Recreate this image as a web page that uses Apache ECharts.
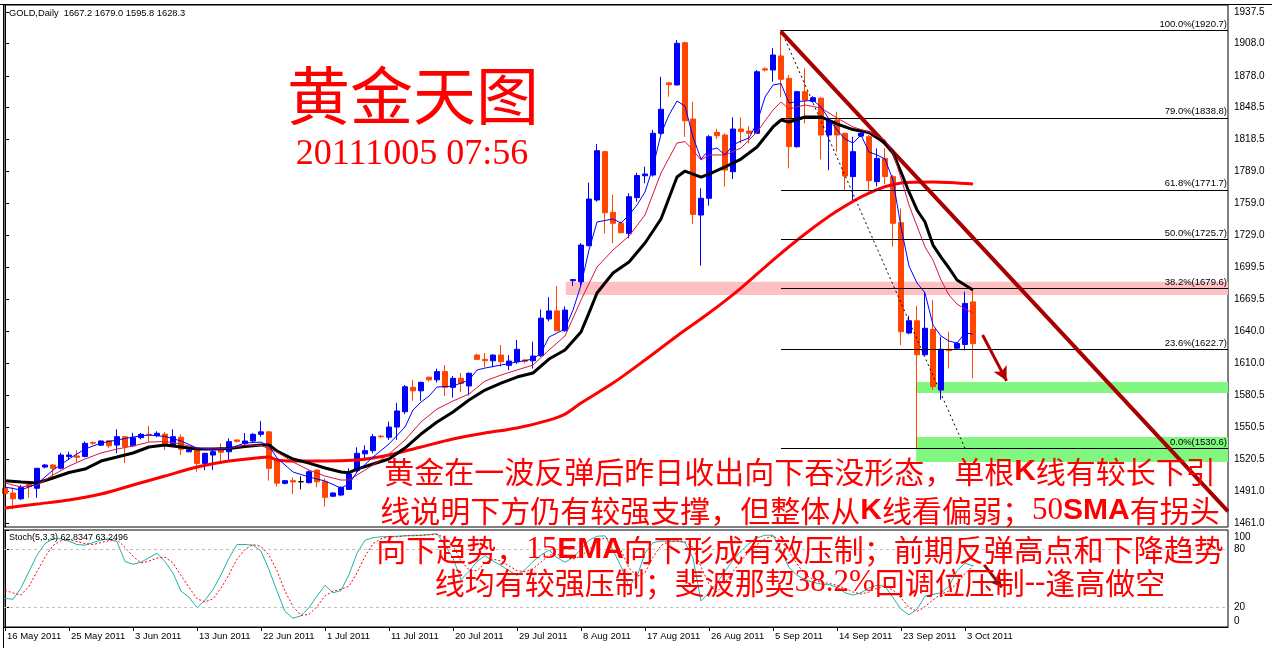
<!DOCTYPE html>
<html><head><meta charset="utf-8">
<script src="https://cdn.jsdelivr.net/npm/echarts@6.0.0/dist/echarts.min.js"></script>
<style>html,body{margin:0;padding:0;background:#fff}#c{width:1272px;height:648px}</style>
</head><body><div id="c"></div>
<script>
// ---- data (bar index 0 = 16 May 2011, one bar per trading day incl. Sunday bars)
const opens = [1493.5,1489,1483.6,1497,1493.4,1513.2,1515.1,1512.1,1523,1523.5,
1523,1536,1533.6,1537.8,1533.7,1541.5,1533,1540.6,1543.7,1542.5,
1543.9,1533.7,1541,1527.4,1530.6,1516.6,1524.4,1529,1527.5,1538.4,
1535.3,1537.5,1543.7,1546,1520,1498,1500.5,1499.5,1498.6,1510.4,
1499.5,1486,1487.1,1492.4,1510,1525.5,1528.5,1542,1541,1550.5,
1564.8,1587.5,1584.3,1597,1594.5,1602.2,1587.5,1595.9,1588.8,1617.6,
1613.6,1612.3,1617.6,1608,1611.4,1613,1612.3,1617,1651.3,1658.8,
1640.3,1687,1686,1719.6,1762.2,1807.3,1750.7,1740.5,1731.1,1764.4,
1784.8,1785.5,1824.4,1871.5,1869.5,1908.9,1837.7,1748.2,1763.8,1825.3,
1822.8,1788.6,1828.4,1826.5,1824.4,1884.5,1883.4,1896.5,1875.6,1811.9,
1863.2,1854,1857.1,1822.8,1836.8,1824.4,1784,1821.8,1821.2,1779.3,
1801,1784,1741,1638.2,1649.6,1617.9,1641.6,1585,1623,1624,
1627.5,1667.2];
const closes = [1488.5,1483.6,1494.3,1495,1512,1515.1,1512.1,1524.4,1524.4,1522.3,
1535.3,1535.5,1537.5,1533,1541.5,1532.2,1540.5,1543.7,1542.8,1544.7,
1533.7,1541.5,1529.8,1529.3,1516.6,1526,1527.5,1527,1536.9,1537.2,
1537.5,1543.7,1546,1512,1498.2,1500.5,1499.3,1499.5,1508.8,1499.5,
1485,1489,1494.3,1506.7,1526,1528.5,1541.5,1541.5,1550.5,1565.5,
1588.1,1584.3,1592.2,1594.5,1602.2,1587.5,1595.9,1591.2,1600.6,1613.6,
1612.3,1617.6,1611.4,1612,1623,1611.8,1616.7,1652,1658.8,1640.3,
1659.6,1688,1720.2,1763.1,1808.2,1750.3,1740.5,1731.7,1765.3,1785,
1786.4,1824.4,1846.8,1869.7,1908.3,1836.1,1748.8,1763.8,1821.2,1822.2,
1790.1,1828.4,1826,1824.4,1881.8,1883.4,1897.4,1874.7,1811.9,1863.2,
1855.4,1857.6,1822.8,1835.8,1822.8,1784.5,1807.3,1824.4,1780.2,1801,
1784,1740.5,1639.4,1649.6,1617.9,1642.6,1588.1,1623,1621.7,1628.5,
1665.8,1628.3];
const lows = [1485,1473.8,1482.4,1484.6,1484.6,1512,1501.1,1511,1519.7,1517,
1522.3,1534,1533,1531,1526,1517,1532,1539,1536.9,1541,
1529,1533,1524.4,1527,1508.8,1510.4,1510.4,1518.2,1520,1536,
1533,1536,1541.5,1500.5,1495,1497,1488,1492.4,1498,1494.3,
1476.2,1485.5,1486,1491.7,1508,1521,1526,1540,1538.5,1538.5,
1562.6,1575,1575,1593,1592,1579.4,1578,1583,1580,1613,
1606.3,1606.3,1606.8,1603.7,1609.3,1610,1605,1616,1649,1640,
1639.5,1682,1682,1719,1760.6,1731,1721.8,1731,1726.5,1760.6,
1777.8,1784,1823,1858.5,1869,1821.2,1739.8,1701,1757,1819,
1774.6,1781.8,1815.1,1815,1824,1882,1872.5,1858,1791.7,1811,
1833.7,1853,1800.1,1790.1,1807.3,1771.5,1759.7,1821,1769.9,1775,
1777,1718.7,1627,1637,1530.6,1617,1585,1576,1605,1623,
1622,1595.8];
const highs = [1496,1494.3,1496.4,1499,1512.5,1516,1516,1526.5,1527.5,1529,
1537,1537,1538,1538,1548.4,1542,1545,1545,1551.7,1546.5,
1546,1548.4,1543.7,1530,1531,1526.5,1529,1535.3,1540,1539,
1545,1545,1556,1547,1522,1501,1503.6,1504.5,1510,1511,
1502.7,1489.5,1495,1512,1531.6,1533.4,1544,1543,1555.5,1573,
1589.7,1594.5,1592.8,1597.5,1605,1608.3,1598,1601,1601.5,1619,
1619.5,1618.5,1627,1617.6,1631.7,1614,1630,1660,1671.6,1682,
1663,1688.5,1722,1778.5,1814.4,1808,1767,1742,1768.5,1787.6,
1793.3,1827.5,1877.1,1871.5,1911.4,1909.8,1853.9,1773.1,1822.7,1828.5,
1824.4,1839.3,1839.3,1831,1883.4,1886,1903.7,1920.7,1878.7,1864,
1885,1859,1858,1836.8,1844.5,1824.4,1821.2,1825,1822.8,1810.3,
1810.3,1785.5,1754.4,1654.3,1663.5,1676.7,1668.9,1634.7,1639.4,1629.4,
1676.7,1679];

// moving averages: [bar, price]
const ema5 = [[0,1494.6],[2,1491.8],[4,1497.4],[6,1510.4],[8,1520.7],[10,1530.0],[12,1535.6],[14,1538.4],[16,1541.2],[18,1543.1],[20,1541.7],[22,1537.5],[24,1530.9],[26,1529.1],[28,1530.5],[30,1535.6],[32,1536.5],[33,1532.8],[34,1521.6],[36,1508.6],[38,1503.9],[40,1500.2],[42,1493.6],[43,1497.4],[44,1508.6],[46,1522.5],[48,1534.7],[50,1550.5],[51,1566.4],[52,1573.8],[53,1579.4],[54,1587.8],[56,1588.7],[58,1594.3],[59,1603.7],[60,1605.5],[62,1608.3],[64,1611.1],[66,1613.9],[67,1619.5],[68,1634.4],[69,1638.2],[70,1641.9],[71,1659.6],[72,1682.9],[73,1715.6],[74,1741.7],[76,1744.5],[77,1740.7],[78,1748.2],[79,1757.5],[80,1769.7],[81,1793.0],[82,1823.7],[83,1841.5],[84,1854.5],[85,1849.8],[86,1820.9],[87,1800.4],[88,1808.8],[89,1810.7],[90,1804.2],[91,1813.5],[92,1817.2],[93,1820.0],[94,1834.0],[95,1858.2],[96,1869.4],[97,1870.8],[98,1852.6],[99,1854.0],[100,1854.5],[101,1855.4],[102,1848.9],[103,1837.7],[104,1827.5],[105,1819.1],[106,1815.3],[107,1822.8],[108,1807.0],[109,1804.2],[110,1800.4],[111,1780.8],[112,1737.0],[113,1700.6],[114,1684.8],[115,1675.5],[116,1645.6],[117,1635.4],[118,1630.7],[119,1628.8],[120,1638.2],[121,1637.2]];
const ema10 = [[0,1498.3],[2,1494.6],[4,1496.4],[6,1505.8],[8,1514.1],[10,1520.7],[12,1526.3],[14,1530.0],[16,1532.8],[18,1536.5],[20,1537.0],[22,1534.7],[24,1530.9],[26,1530.0],[28,1530.5],[30,1533.7],[32,1533.3],[34,1527.2],[36,1517.9],[38,1510.4],[40,1504.8],[42,1501.1],[43,1501.1],[44,1505.8],[46,1515.1],[48,1525.3],[50,1538.4],[52,1555.2],[54,1567.3],[56,1574.8],[58,1581.3],[60,1593.4],[62,1599.0],[64,1603.7],[66,1608.3],[68,1622.3],[70,1635.4],[72,1668.9],[74,1699.7],[76,1715.6],[78,1728.6],[80,1748.2],[82,1787.4],[84,1815.3],[85,1816.7],[86,1808.8],[87,1799.5],[88,1804.2],[90,1804.2],[92,1810.7],[94,1825.6],[96,1846.1],[97,1853.6],[98,1847.1],[100,1850.8],[102,1848.0],[104,1838.7],[106,1830.3],[108,1825.6],[110,1818.1],[111,1806.0],[112,1782.7],[113,1757.5],[114,1737.9],[115,1718.4],[116,1706.2],[117,1687.6],[118,1673.6],[119,1665.2],[120,1660.6],[121,1656.8]];
const ema15 = [[0,1500.4],[2,1499.2],[4,1498.3],[6,1503.0],[8,1508.1],[10,1511.3],[12,1518.8],[14,1522.5],[16,1526.3],[18,1531.9],[20,1533.7],[22,1531.9],[24,1530.0],[26,1530.0],[28,1530.5],[30,1532.3],[32,1533.7],[33,1533.7],[34,1528.1],[36,1520.7],[38,1516.9],[40,1512.3],[42,1508.6],[43,1507.9],[44,1511.3],[46,1516.0],[48,1520.7],[50,1530.9],[52,1544.0],[54,1555.2],[56,1564.5],[58,1575.7],[60,1585.0],[62,1591.5],[64,1597.1],[66,1600.9],[68,1613.9],[70,1622.3],[72,1639.1],[73,1657.0],[74,1675.5],[76,1694.1],[78,1704.4],[80,1722.1],[82,1744.5],[84,1783.6],[85,1789.2],[86,1786.4],[87,1783.6],[88,1786.4],[90,1793.0],[92,1800.4],[94,1811.6],[96,1830.3],[97,1836.8],[98,1834.9],[100,1839.6],[102,1839.6],[104,1833.1],[106,1827.9],[108,1825.1],[110,1815.3],[111,1806.0],[112,1788.3],[113,1769.7],[114,1752.9],[115,1741.7],[116,1720.2],[117,1709.0],[118,1698.8],[119,1687.6],[120,1682.9],[121,1678.3]];
const sma50 = [[0,1475.0],[4,1478.7],[8,1482.4],[12,1488.0],[16,1496.4],[20,1504.8],[24,1513.2],[28,1518.8],[32,1522.1],[33,1522.5],[34,1519.7],[36,1518.8],[40,1518.8],[44,1519.7],[46,1521.6],[48,1524.4],[52,1531.9],[56,1539.3],[60,1544.9],[64,1549.6],[68,1557.0],[70,1562.6],[72,1572.9],[76,1591.5],[80,1613.0],[84,1635.4],[88,1656.8],[92,1680.1],[96,1706.2],[100,1730.5],[104,1751.9],[108,1768.7],[112,1778.0],[116,1779.0],[121,1777.1]];

// stochastic (5,3,3)
const stochK = [29.5,28.5,40.3,57.3,74,86,91,91,88.5,85,
84.4,87,89.5,91,88,67.5,64.7,66.8,71.5,76,
67.5,55.6,37,30.8,20,27.5,38.6,54,71,85,
85,84.4,78.3,59,37,16,9,11.5,20,31.9,
43,35.3,37.6,54,76,89.5,92,93,93.3,93.6,
94,94.6,94.6,95.3,96.3,84.4,71,48.8,57.3,67.5,
73.6,68,63.4,58,53.2,59,67.5,74.2,79.3,71.5,
66.8,71.5,80.3,89.5,93.6,94,79.3,62.4,42,52,
76,87,88.5,88.5,88.5,87,71,26.8,35.3,45.4,
57.3,69,78.3,86,92,94.6,94.6,79.3,61.4,53.2,
48.8,46,44.4,43.7,41,35.3,32.9,35.3,40.3,43,
42,30.2,18.3,12.5,18.3,31.9,33.6,35.3,42,58,
65.8,62.83];
const stochD = [38,35,33,42,57,72,84,89,90,88,
86,85,87,89,90,82,73,66,68,71,
72,66,53,41,29,26,29,40,54,70,
80,85,83,74,58,37,21,12,13,21,
32,37,39,42,56,73,86,91,93,93,
94,94,94.5,95,95.5,92,84,68,59,58,
66,70,68,63,58,57,60,67,74,75,
72,70,73,80,88,92,89,79,61,52,
56,72,84,88,88.5,88,82,62,44,36,
46,57,68,78,85,91,94,89,78,65,
54,49,46,45,43,40,36,34,36,40,
42,38,30,20,16,21,28,34,37,45,
55,63.25];

const priceTicks = [1461.0,1491.0,1520.5,1550.5,1580.5,1610.0,1640.0,1669.5,1699.5,1729.0,1759.0,1789.0,1818.5,1848.5,1878.0,1908.0,1937.5];
const stochTicks = [0,20,80,100];
const tickBars = [0,8,16,24,32,40,48,56,64,72,80,88,96,104,112,120];
const tickLabels = ['16 May 2011','25 May 2011','3 Jun 2011','13 Jun 2011','22 Jun 2011','1 Jul 2011','11 Jul 2011','20 Jul 2011','29 Jul 2011','8 Aug 2011','17 Aug 2011','26 Aug 2011','5 Sep 2011','14 Sep 2011','23 Sep 2011','3 Oct 2011'];

const fibStartBar = 97;
const fibLevels = [1920.7,1838.8,1771.7,1725.7,1679.6,1622.7,1530.6];
const fibLabels = ['100.0%(1920.7)','79.0%(1838.8)','61.8%(1771.7)','50.0%(1725.7)','38.2%(1679.6)','23.6%(1622.7)','0.0%(1530.6)'];
const fibDiag = [[97,1920.7],[120,1530.6]];
const trendLine = [[97,1919.1],[152.875,1471.8]];
const arrowMain = [[122.2,1636.3],[125.2,1593.6]];
const arrowStoch = [[122.4,64],[124.6,41]];
const pinkZone = [[70.1,1673.6],[152.875,1686.0]];
const greenZones = [[[113.9,1582.3],[152.875,1592.5]],[[113.9,1517.9],[152.875,1541.2]]];
const lastPrice = 1628.3;

const X_MIN = -0.125, X_MAX = 152.875;

const chart = echarts.init(document.getElementById('c'));
const candleData = opens.map((o,i)=>[i,o,closes[i],lows[i],highs[i]]);
const kData = stochK.map((v,i)=>[i,v]);
const dData = stochD.map((v,i)=>[i,v]);
const FONT = 'Liberation Sans';
const NOTE_SIZE = 30;

const fibLines = fibLevels.map((lv,k)=>[
  {coord:[fibStartBar,lv], name:fibLabels[k]},
  {coord:[X_MAX,lv]}
]);

const redTextBase = {fill:'#FF0000', fontSize:NOTE_SIZE, fontFamily:'Noto Sans CJK SC', align:'center', verticalAlign:'middle',
  rich:{
    b:{fill:'#FF0000', fontSize:NOTE_SIZE, fontFamily:FONT, fontWeight:'bold'},
    n:{fill:'#FF0000', fontSize:NOTE_SIZE+1, fontFamily:'Liberation Serif'}
  }};
const noteLines = [
  '黄金在一波反弹后昨日收出向下吞没形态，单根{b|K}线有较长下引',
  '线说明下方仍有较强支撑，但整体从{b|K}线看偏弱；{n|50}{b|SMA}有拐头',
  '向下趋势，{n|15}{b|EMA}向下形成有效压制；前期反弹高点和下降趋势',
  '线均有较强压制；斐波那契{n|38.2%}回调位压制{n|--}逢高做空'
];
const noteY = [472, 511, 550, 583];

const option = {
  animation:false,
  backgroundColor:'#fff',
  grid:[
    {left:4, top:5, width:1224, height:522, show:true, borderColor:'#000', borderWidth:1, backgroundColor:'#fff'},
    {left:4, top:530, width:1224, height:97, show:true, borderColor:'#000', borderWidth:1, backgroundColor:'#fff'}
  ],
  xAxis:[
    {type:'value', gridIndex:0, min:X_MIN, max:X_MAX, show:false},
    {type:'value', gridIndex:1, min:X_MIN, max:X_MAX,
     axisLine:{show:true, onZero:false, lineStyle:{color:'#000'}}, splitLine:{show:false},
     axisTick:{show:true, length:4, lineStyle:{color:'#000'}, customValues:tickBars},
     axisLabel:{customValues:tickBars, formatter:v=>tickLabels[tickBars.indexOf(Math.round(v))]||'',
       align:'left', margin:4, color:'#000', fontSize:9.5, fontFamily:FONT, padding:[0,0,0,2]}}
  ],
  yAxis:[
    {type:'value', gridIndex:0, position:'right', min:1457.3, max:1944.03, scale:true,
     axisLine:{show:true, lineStyle:{color:'#000'}}, splitLine:{show:false},
     axisTick:{show:true, length:4, lineStyle:{color:'#000'}, customValues:priceTicks},
     axisLabel:{customValues:priceTicks, formatter:v=>v.toFixed(1), color:'#000', fontSize:10, fontFamily:FONT, margin:6}},
    {type:'value', gridIndex:1, position:'right', min:0, max:100,
     axisLine:{show:true, lineStyle:{color:'#000'}}, splitLine:{show:false},
     axisTick:{show:true, length:4, lineStyle:{color:'#000'}, customValues:stochTicks},
     axisLabel:{customValues:stochTicks, color:'#000', fontSize:10, fontFamily:FONT, margin:6,
       formatter:v=> v===100 ? '{t|100}' : (v===0 ? '{b|0}' : String(v)),
       rich:{t:{padding:[14,0,0,0], fontSize:10, fontFamily:FONT, color:'#000'}, b:{padding:[0,0,12,0], fontSize:10, fontFamily:FONT, color:'#000'}}}}
  ],
  series:[
    {type:'line', name:'zones', xAxisIndex:0, yAxisIndex:0, data:[[-10,1500]], symbol:'none', lineStyle:{opacity:0}, z:1, silent:true,
     markArea:{silent:true, data:[
       [{coord:pinkZone[0], itemStyle:{color:'#FFC0C4'}},{coord:pinkZone[1]}],
       [{coord:greenZones[0][0], itemStyle:{color:'#80F880'}},{coord:greenZones[0][1]}],
       [{coord:greenZones[1][0], itemStyle:{color:'#80F880'}},{coord:greenZones[1][1]}]
     ]}},
    {type:'line', name:'fibo', xAxisIndex:0, yAxisIndex:0, data:[[-10,1500]], symbol:'none', lineStyle:{opacity:0}, z:2, silent:true,
     markLine:{silent:true, symbol:['none','none'], animation:false,
       lineStyle:{color:'#000', width:1, type:'solid'},
       label:{show:true, position:'insideEndTop', formatter:'{b}', color:'#000', fontSize:9.5, fontFamily:FONT, distance:[1,1]},
       data: fibLines.concat([
         [{coord:fibDiag[0], lineStyle:{type:[2,3], width:1, color:'#000'}, label:{show:false}},{coord:fibDiag[1]}],
         [{yAxis:lastPrice, lineStyle:{opacity:0}, label:{show:true, position:'end', formatter:'1628.3', backgroundColor:'#000', color:'#fff', padding:[2,3,1,3], distance:1, fontSize:10, fontFamily:FONT}},{yAxis:lastPrice}]
       ])}},
    {type:'candlestick', name:'GOLD', xAxisIndex:0, yAxisIndex:0, data:candleData, encode:{x:0, y:[1,2,3,4]},
     barWidth:5, z:3, clip:true,
     itemStyle:{color:'#0000FF', color0:'#FF4500', borderColor:'#0000FF', borderColor0:'#FF4500', borderColorDoji:'#000', borderWidth:1}},
    {type:'line', name:'SMA50', xAxisIndex:0, yAxisIndex:0, data:sma50, symbol:'none', smooth:0.3, z:4, lineStyle:{color:'#FF0000', width:3}},
    {type:'line', name:'EMA15', xAxisIndex:0, yAxisIndex:0, data:ema15, symbol:'none', z:5, lineStyle:{color:'#000', width:3}},
    {type:'line', name:'EMA10', xAxisIndex:0, yAxisIndex:0, data:ema10, symbol:'none', z:6, lineStyle:{color:'#DC143C', width:1}},
    {type:'line', name:'EMA5', xAxisIndex:0, yAxisIndex:0, data:ema5, symbol:'none', z:7, lineStyle:{color:'#0000FF', width:1}},
    {type:'line', name:'trend', xAxisIndex:0, yAxisIndex:0, data:[[-10,1500]], symbol:'none', lineStyle:{opacity:0}, z:8, silent:true,
     markLine:{silent:true, animation:false, label:{show:false},
       data:[
         [{coord:trendLine[0], symbol:'none', lineStyle:{color:'#A80000', width:4, type:'solid'}},{coord:trendLine[1], symbol:'none'}],
         [{coord:arrowMain[0], symbol:'none', lineStyle:{color:'#B00000', width:3, type:'solid'}},{coord:arrowMain[1], symbol:'arrow', symbolSize:[11,14]}]
       ]}},
    {type:'line', name:'%K', xAxisIndex:1, yAxisIndex:1, data:kData, symbol:'none', z:3, lineStyle:{color:'#20B2AA', width:1},
     markLine:{silent:true, symbol:['none','none'], animation:false, label:{show:false},
       lineStyle:{color:'#C0C0C0', width:1, type:[3,3]},
       data:[{yAxis:20},{yAxis:80}]}},
    {type:'line', name:'%D', xAxisIndex:1, yAxisIndex:1, data:dData, symbol:'none', z:4, lineStyle:{color:'#FF0000', width:1, type:[2,2]},
     markLine:{silent:true, animation:false, label:{show:false},
       data:[[{coord:arrowStoch[0], symbol:'none', lineStyle:{color:'#901010', width:3, type:'solid'}},{coord:arrowStoch[1], symbol:'arrow', symbolSize:[10,12]}]]}}
  ],
  graphic:[
    {type:'line', silent:true, z:60, shape:{x1:0, y1:4.5, x2:1272, y2:4.5}, style:{stroke:'#000', lineWidth:1}},
    {type:'line', silent:true, z:60, shape:{x1:3.5, y1:4, x2:3.5, y2:648}, style:{stroke:'#000', lineWidth:1}},
    {type:'text', x:9, y:13, silent:true, z:50, style:{text:'GOLD,Daily  1667.2 1679.0 1595.8 1628.3', fill:'#000', fontSize:9.3, fontFamily:FONT, verticalAlign:'middle'}},
    {type:'text', x:9, y:538, silent:true, z:50, style:{text:'Stoch(5,3,3) 62.8347 63.2496', fill:'#000', fontSize:9, fontFamily:FONT, verticalAlign:'middle'}},
    {type:'text', x:413, y:95, silent:true, z:50, style:{text:'黄金天图', fill:'#FF0000', fontSize:63, fontFamily:'Noto Sans CJK SC', align:'center', verticalAlign:'middle'}},
    {type:'text', x:412, y:155, silent:true, z:50, style:{text:'20111005 07:56', fill:'#FF0000', fontSize:36, fontFamily:'Liberation Serif', align:'center', verticalAlign:'middle'}}
  ].concat(noteLines.map((t,k)=>({type:'text', x:800, y:noteY[k], silent:true, z:50, style:Object.assign({text:t}, redTextBase)})))
};
chart.setOption(option);
</script></body></html>
